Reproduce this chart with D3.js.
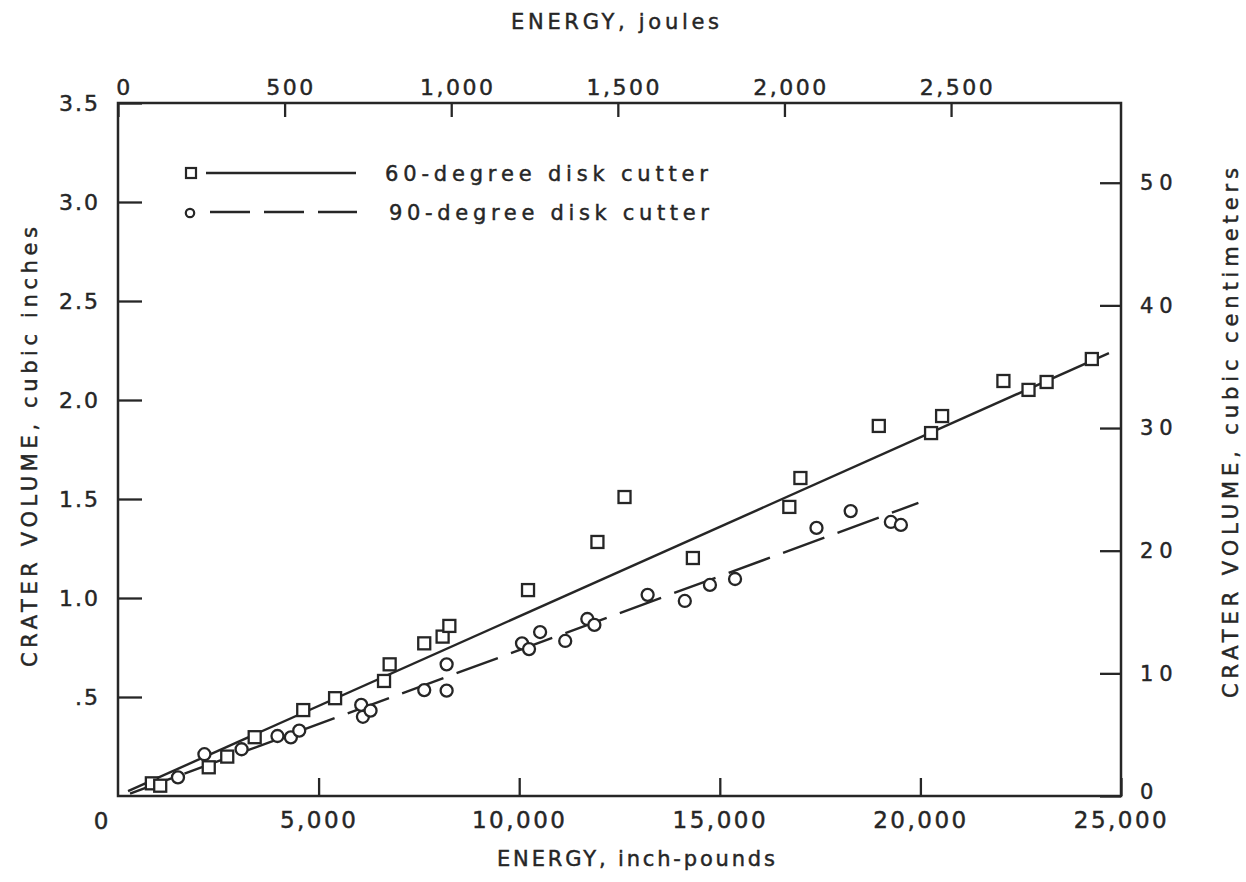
<!DOCTYPE html>
<html>
<head>
<meta charset="utf-8">
<script src="https://cdn.jsdelivr.net/npm/d3@7"></script>
<style>
  body { margin: 0; background: #fff; }
  text { font-family: "DejaVu Sans", sans-serif; fill: #262626; stroke: #262626; stroke-width: 0.45; }
  .tick line { stroke: #262626; stroke-width: 2.3; }
</style>
</head>
<body>
<svg id="draw" width="1246" height="882"></svg>
<script>
// energy (inch-pounds) vs crater volume (cubic inches)
var sq60_x = [844, 1052, 2262, 2723, 3407, 4617, 5411, 6631, 6771, 7633, 8091, 8259,
              10220, 11950, 12625, 14329, 16733, 17009, 18963, 20266, 20541, 22069, 22695, 23146, 24273];
var sq60_y = [0.064, 0.052, 0.145, 0.199, 0.297, 0.434, 0.494, 0.581, 0.665, 0.771, 0.805, 0.859,
              1.040, 1.283, 1.510, 1.202, 1.460, 1.606, 1.869, 1.833, 1.919, 2.096, 2.051, 2.091, 2.207];
var ci90_x = [1495, 2154, 3081, 3975, 4309, 4517, 6062, 6105, 6295, 7633, 8191, 8191,
              10070, 10245, 10521, 11147, 11698, 11874, 13201, 14128, 14754, 15380, 17410, 18262, 19264, 19514];
var ci90_y = [0.094, 0.211, 0.236, 0.303, 0.296, 0.330, 0.460, 0.400, 0.431, 0.535, 0.665, 0.532,
              0.771, 0.742, 0.828, 0.783, 0.894, 0.864, 1.016, 0.985, 1.066, 1.096, 1.354, 1.439, 1.384, 1.369];
// fitted lines (end points)
var fit60 = [[250, 0.025], [24700, 2.237]];
var fit90 = [[300, 0.012], [19950, 1.48]];

var xTicks = [5000, 10000, 15000, 20000, 25000];
var xTopTicks = [0, 500, 1000, 1500, 2000, 2500];
var yTicks = [0.5, 1.0, 1.5, 2.0, 2.5, 3.0, 3.5];
var yRightTicks = [0, 10, 20, 30, 40, 50];
var legendLabels = ["60-degree disk cutter", "90-degree disk cutter"];

// ---------------------------------------------------------------------------

var svg = d3.select("#draw");
var L = 118, R = 1121, T = 103, B = 796;
var ink = "#262626";

var x = d3.scaleLinear().domain([0, 25000]).range([L, R]);
var xTop = d3.scaleLinear().domain([0, 3010]).range([L, R]);
var y = d3.scaleLinear().domain([0, 3.5]).range([B, T]);
var yRight = d3.scaleLinear().domain([0, 56.5]).range([B, T]);

var fmt = d3.format(",");

// frame
svg.append("rect")
    .attr("x", L).attr("y", T)
    .attr("width", R - L).attr("height", B - T)
    .attr("fill", "none").attr("stroke", ink).attr("stroke-width", 2.5);

// bottom axis
var gb = svg.append("g").attr("transform", "translate(0," + B + ")")
    .call(d3.axisBottom(x).tickValues(xTicks).tickSize(-18).tickPadding(16).tickFormat(fmt));
gb.select(".domain").remove();
gb.selectAll("text").attr("font-size", 23).attr("letter-spacing", 2.5);
svg.append("text").attr("x", 101).attr("y", 829).attr("text-anchor", "middle")
    .attr("font-size", 23).text("0");

// top axis
var gt = svg.append("g").attr("transform", "translate(0," + T + ")")
    .call(d3.axisTop(xTop).tickValues(xTopTicks).tickSize(-14).tickPadding(8).tickFormat(fmt));
gt.select(".domain").remove();
gt.selectAll("text").attr("font-size", 22).attr("letter-spacing", 2.5).attr("dx", 6);

// left axis
var gl = svg.append("g").attr("transform", "translate(" + L + ",0)")
    .call(d3.axisLeft(y).tickValues(yTicks).tickSize(-24).tickPadding(18)
        .tickFormat(d => d === 0.5 ? ".5" : d3.format(".1f")(d)));
gl.select(".domain").remove();
gl.selectAll("text").attr("font-size", 22).attr("letter-spacing", 2);

// right axis
var gr = svg.append("g").attr("transform", "translate(" + R + ",0)")
    .call(d3.axisRight(yRight).tickValues(yRightTicks).tickSize(-21).tickPadding(19));
gr.select(".domain").remove();
gr.selectAll("text").attr("font-size", 21).attr("letter-spacing", 6)
    .attr("dy", (d) => d === 0 ? "0.1em" : "0.32em");

// axis titles
svg.append("text").attr("x", 615).attr("y", 29).attr("text-anchor", "middle")
    .attr("font-size", 21).attr("textLength", 208).attr("lengthAdjust", "spacing")
    .text("ENERGY, joules");
svg.append("text").attr("x", 636).attr("y", 866).attr("text-anchor", "middle")
    .attr("font-size", 21).attr("textLength", 278).attr("lengthAdjust", "spacing")
    .text("ENERGY, inch-pounds");
svg.append("text").attr("transform", "translate(37,447) rotate(-90)").attr("text-anchor", "middle")
    .attr("font-size", 21).attr("textLength", 440).attr("lengthAdjust", "spacing")
    .text("CRATER VOLUME, cubic inches");
svg.append("text").attr("transform", "translate(1238,433) rotate(-90)").attr("text-anchor", "middle")
    .attr("font-size", 21).attr("textLength", 530).attr("lengthAdjust", "spacing")
    .text("CRATER VOLUME, cubic centimeters");

// fitted lines
var line = d3.line().x((d) => x(d[0])).y((d) => y(d[1]));
svg.append("path").datum(fit60).attr("d", line)
    .attr("fill", "none").attr("stroke", ink).attr("stroke-width", 2.4);
svg.append("path").datum(fit90).attr("d", line)
    .attr("fill", "none").attr("stroke", ink).attr("stroke-width", 2.4)
    .attr("stroke-dasharray", "44,14");

// points
svg.append("g").selectAll("rect")
    .data(d3.range(sq60_x.length))
    .enter()
    .append("rect")
    .attr("x", (i) => x(sq60_x[i]) - 6)
    .attr("y", (i) => y(sq60_y[i]) - 6)
    .attr("width", 12).attr("height", 12)
    .attr("fill", "#fff").attr("stroke", ink).attr("stroke-width", 2.3);
svg.append("g").selectAll("circle")
    .data(d3.range(ci90_x.length))
    .enter()
    .append("circle")
    .attr("cx", (i) => x(ci90_x[i]))
    .attr("cy", (i) => y(ci90_y[i]))
    .attr("r", 6)
    .attr("fill", "#fff").attr("stroke", ink).attr("stroke-width", 2.3);

// legend
var lg = svg.append("g");
lg.append("rect").attr("x", 186).attr("y", 168).attr("width", 10).attr("height", 10)
    .attr("fill", "#fff").attr("stroke", ink).attr("stroke-width", 2.2);
lg.append("line").attr("x1", 206).attr("x2", 356).attr("y1", 173).attr("y2", 173)
    .attr("stroke", ink).attr("stroke-width", 2.3);
lg.append("circle").attr("cx", 190).attr("cy", 213).attr("r", 4.2)
    .attr("fill", "#fff").attr("stroke", ink).attr("stroke-width", 2.2);
lg.append("line").attr("x1", 210).attr("x2", 357).attr("y1", 212).attr("y2", 212)
    .attr("stroke", ink).attr("stroke-width", 2.3).attr("stroke-dasharray", "40,14");
lg.selectAll("text.leg")
    .data(legendLabels)
    .enter()
    .append("text")
    .attr("class", "leg")
    .attr("x", (d, i) => i === 0 ? 385 : 389)
    .attr("y", (d, i) => i === 0 ? 181 : 220)
    .attr("font-size", 21)
    .attr("textLength", (d, i) => i === 0 ? 323 : 320)
    .attr("lengthAdjust", "spacing")
    .text((d) => d);
</script>
</body>
</html>
